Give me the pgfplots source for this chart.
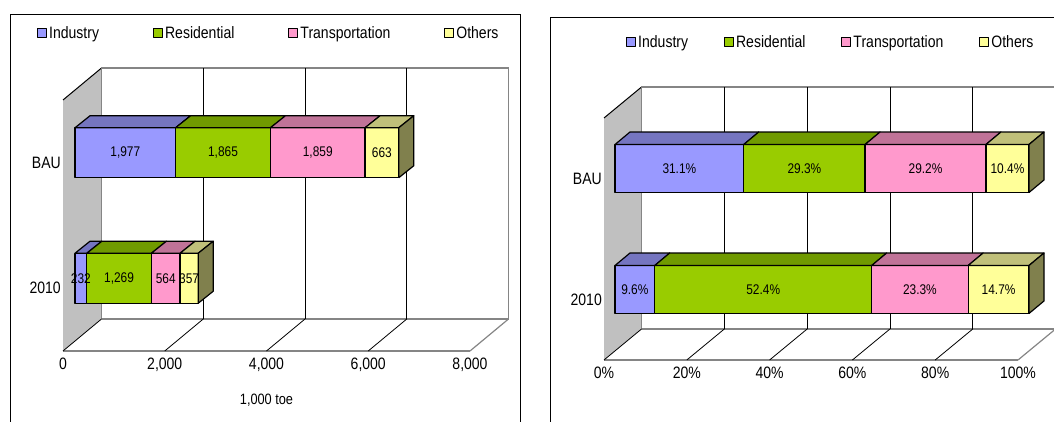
\documentclass[border=0pt]{standalone}
\usepackage{fontspec}
\setmainfont{Liberation Sans}[FakeStretch=0.85]
\usepackage{pgfplots}
\pgfplotsset{compat=1.18}

\definecolor{indF}{HTML}{9999FF}
\definecolor{indT}{HTML}{7575C0}
\definecolor{resF}{HTML}{99CC00}
\definecolor{resT}{HTML}{709A00}
\definecolor{traF}{HTML}{FF99CC}
\definecolor{traT}{HTML}{C07398}
\definecolor{othF}{HTML}{FFFF99}
\definecolor{othT}{HTML}{C0C07A}
\definecolor{othS}{HTML}{80804D}
\definecolor{wallG}{HTML}{C0C0C0}
\definecolor{edgeG}{HTML}{858585}

\newcommand\fs[1]{\fontsize{#1}{#1}\selectfont}

\pgfplotsset{
  base/.style={scale only axis, clip=false, anchor=south west, ymin=-0.5, ymax=1.5, no markers},
  face/.style={draw=black, line width=1.2pt, line join=round},
  legimg/.style={legend image code/.code={\draw[##1,line width=1pt] (0pt,-4.5pt) rectangle (9pt,4.5pt);}},
  frontax/.style={
    axis x line*=bottom, axis y line*=left,
    x axis line style={-, edgeG, line width=1.5pt},
    y axis line style={-, black, line width=1pt},
    ytick={0,1}, yticklabels={2010,BAU},
    minor ytick={0.5,1.5},
    major tick length=0pt, minor tick length=5pt, tick align=inside,
    minor y tick style={black, line width=1pt},
    tick label style={font=\fs{16.5}},
    yticklabel style={inner xsep=2pt},
    xticklabel style={yshift=-3.5pt},
  },
  lbl/.style={only marks, mark=*, mark size=0pt, mark options={draw=none,fill=none},
    nodes near coords align={center}, point meta=explicit,
    every node near coord/.append style={font=\fs{14}, text=black}},
}

\begin{document}
\begin{tikzpicture}
\path[use as bounding box] (0,0) rectangle (1054pt,422pt);
\clip (0,0) rectangle (1054pt,422pt);
\draw[line width=1pt] (10pt,407pt) rectangle (520pt,-20pt);
\draw[line width=1pt] (550pt,404pt) rectangle (1080pt,-20pt);

% ================= LEFT CHART =================
\begin{axis}[base, frontax, at={(63pt,71pt)}, width=407pt, height=251pt,
  xmin=0, xmax=8000,
  xtick={0,2000,4000,6000,8000}, xticklabels={0,{2,000},{4,000},{6,000},{8,000}},
  xlabel={1,000 toe}, xlabel style={font=\fs{15}, yshift=-15pt}]
\addplot[fill=wallG, draw=none] coordinates {(0,-0.5) (0,1.5) (757,1.755) (757,-0.245) (0,-0.5)};
\addplot[black, line width=1pt] coordinates {(0,1.5) (757,1.755)};
\addplot[edgeG, line width=1.5pt] coordinates {(757,-0.245) (757,1.755) (8757,1.755) (8757,-0.245) (757,-0.245)};
\addplot[black, line width=0.8pt] coordinates {(2757,-0.245) (2757,1.755)};
\addplot[black, line width=0.8pt] coordinates {(4757,-0.245) (4757,1.755)};
\addplot[black, line width=0.8pt] coordinates {(6757,-0.245) (6757,1.755)};
\addplot[black, line width=0.8pt] coordinates {(0,-0.5) (757,-0.245)};
\addplot[black, line width=0.8pt] coordinates {(2000,-0.5) (2757,-0.245)};
\addplot[black, line width=0.8pt] coordinates {(4000,-0.5) (4757,-0.245)};
\addplot[black, line width=0.8pt] coordinates {(6000,-0.5) (6757,-0.245)};
\addplot[edgeG, line width=1.2pt] coordinates {(8000,-0.5) (8757,-0.245)};
\end{axis}

\begin{axis}[base, at={(75pt,81pt)}, width=407pt, height=251pt,
  xmin=0, xmax=8000, hide axis, xbar stacked, bar width=50pt,
  legend columns=4, legend cell align=left,
  legend style={draw=none, fill=none, at={(-0.0934,1.227)}, anchor=west,
    font=\fs{16.5}, inner sep=0pt, nodes={inner xsep=2pt, inner ysep=1pt},
    /tikz/every even column/.append style={column sep=52pt}}]
\addplot[fill=indF, face, legimg] coordinates {(1977,1) (232,0)};
\addplot[fill=resF, face, legimg] coordinates {(1865,1) (1269,0)};
\addplot[fill=traF, face, legimg] coordinates {(1859,1) (564,0)};
\addplot[fill=othF, face, legimg] coordinates {(663,1) (357,0)};
\legend{Industry,Residential,Transportation,Others}
\end{axis}

\begin{axis}[base, at={(75pt,81pt)}, width=407pt, height=251pt,
  xmin=0, xmax=8000, hide axis]
% BAU tops
\addplot[fill=indT, face] coordinates {(0,1.1992) (295,1.2948) (2272,1.2948) (1977,1.1992) (0,1.1992)};
\addplot[fill=resT, face] coordinates {(1977,1.1992) (2272,1.2948) (4137,1.2948) (3842,1.1992) (1977,1.1992)};
\addplot[fill=traT, face] coordinates {(3842,1.1992) (4137,1.2948) (5996,1.2948) (5701,1.1992) (3842,1.1992)};
\addplot[fill=othT, face] coordinates {(5701,1.1992) (5996,1.2948) (6659,1.2948) (6364,1.1992) (5701,1.1992)};
\addplot[fill=othS, face] coordinates {(6364,0.8008) (6659,0.8964) (6659,1.2948) (6364,1.1992) (6364,0.8008)};
% 2010 tops
\addplot[fill=indT, face] coordinates {(0,0.1992) (295,0.2948) (527,0.2948) (232,0.1992) (0,0.1992)};
\addplot[fill=resT, face] coordinates {(232,0.1992) (527,0.2948) (1796,0.2948) (1501,0.1992) (232,0.1992)};
\addplot[fill=traT, face] coordinates {(1501,0.1992) (1796,0.2948) (2360,0.2948) (2065,0.1992) (1501,0.1992)};
\addplot[fill=othT, face] coordinates {(2065,0.1992) (2360,0.2948) (2717,0.2948) (2422,0.1992) (2065,0.1992)};
\addplot[fill=othS, face] coordinates {(2422,-0.1992) (2717,-0.1036) (2717,0.2948) (2422,0.1992) (2422,-0.1992)};
% value labels
\addplot[lbl, nodes near coords={\pgfmathprintnumber[assume math mode=true]{\pgfplotspointmeta}}]
  coordinates {(988.5,1) [1977] (2909.5,1) [1865] (4771.5,1) [1859] (6032.5,1) [663]
               (116,0) [232] (866.5,0) [1269] (1783,0) [564] (2243.5,0) [357]};
\end{axis}

% ================= RIGHT CHART =================
\begin{axis}[base, frontax, at={(604pt,62pt)}, width=414pt, height=242pt,
  xmin=0, xmax=100,
  xtick={0,20,40,60,80,100}, xticklabels={0\%,20\%,40\%,60\%,80\%,100\%}]
\addplot[fill=wallG, draw=none] coordinates {(0,-0.5) (0,1.5) (9.06,1.756) (9.06,-0.244) (0,-0.5)};
\addplot[black, line width=1pt] coordinates {(0,1.5) (9.06,1.756)};
\addplot[edgeG, line width=1.5pt] coordinates {(9.06,-0.244) (9.06,1.756) (109.06,1.756) (109.06,-0.244) (9.06,-0.244)};
\addplot[black, line width=0.8pt] coordinates {(29.06,-0.244) (29.06,1.756)};
\addplot[black, line width=0.8pt] coordinates {(49.06,-0.244) (49.06,1.756)};
\addplot[black, line width=0.8pt] coordinates {(69.06,-0.244) (69.06,1.756)};
\addplot[black, line width=0.8pt] coordinates {(89.06,-0.244) (89.06,1.756)};
\addplot[black, line width=0.8pt] coordinates {(0,-0.5) (9.06,-0.244)};
\addplot[black, line width=0.8pt] coordinates {(20,-0.5) (29.06,-0.244)};
\addplot[black, line width=0.8pt] coordinates {(40,-0.5) (49.06,-0.244)};
\addplot[black, line width=0.8pt] coordinates {(60,-0.5) (69.06,-0.244)};
\addplot[black, line width=0.8pt] coordinates {(80,-0.5) (89.06,-0.244)};
\addplot[edgeG, line width=1.2pt] coordinates {(100,-0.5) (109.06,-0.244)};
\end{axis}

\begin{axis}[base, at={(615pt,72pt)}, width=414pt, height=242pt,
  xmin=0, xmax=100, hide axis, xbar stacked, bar width=48pt,
  legend columns=4, legend cell align=left,
  legend style={draw=none, fill=none, at={(0.0266,1.2727)}, anchor=west,
    font=\fs{16.5}, inner sep=0pt, nodes={inner xsep=2pt, inner ysep=1pt},
    /tikz/every even column/.append style={column sep=34pt}}]
\addplot[fill=indF, face, legimg] coordinates {(31.1,1) (9.6,0)};
\addplot[fill=resF, face, legimg] coordinates {(29.3,1) (52.4,0)};
\addplot[fill=traF, face, legimg] coordinates {(29.2,1) (23.3,0)};
\addplot[fill=othF, face, legimg] coordinates {(10.4,1) (14.7,0)};
\legend{Industry,Residential,Transportation,Others}
\end{axis}

\begin{axis}[base, at={(615pt,72pt)}, width=414pt, height=242pt,
  xmin=0, xmax=100, hide axis]
% BAU tops
\addplot[fill=indT, face] coordinates {(0,1.1983) (3.62,1.3016) (34.72,1.3016) (31.1,1.1983) (0,1.1983)};
\addplot[fill=resT, face] coordinates {(31.1,1.1983) (34.72,1.3016) (64.02,1.3016) (60.4,1.1983) (31.1,1.1983)};
\addplot[fill=traT, face] coordinates {(60.4,1.1983) (64.02,1.3016) (93.22,1.3016) (89.6,1.1983) (60.4,1.1983)};
\addplot[fill=othT, face] coordinates {(89.6,1.1983) (93.22,1.3016) (103.62,1.3016) (100,1.1983) (89.6,1.1983)};
\addplot[fill=othS, face] coordinates {(100,0.8017) (103.62,0.905) (103.62,1.3016) (100,1.1983) (100,0.8017)};
% 2010 tops
\addplot[fill=indT, face] coordinates {(0,0.1983) (3.62,0.3016) (13.22,0.3016) (9.6,0.1983) (0,0.1983)};
\addplot[fill=resT, face] coordinates {(9.6,0.1983) (13.22,0.3016) (65.62,0.3016) (62,0.1983) (9.6,0.1983)};
\addplot[fill=traT, face] coordinates {(62,0.1983) (65.62,0.3016) (88.92,0.3016) (85.3,0.1983) (62,0.1983)};
\addplot[fill=othT, face] coordinates {(85.3,0.1983) (88.92,0.3016) (103.62,0.3016) (100,0.1983) (85.3,0.1983)};
\addplot[fill=othS, face] coordinates {(100,-0.1983) (103.62,-0.095) (103.62,0.3016) (100,0.1983) (100,-0.1983)};
% value labels
\addplot[lbl, nodes near coords={\pgfmathprintnumber[fixed,fixed zerofill,precision=1,assume math mode=true]{\pgfplotspointmeta}\%}]
  coordinates {(15.55,1) [31.1] (45.75,1) [29.3] (75,1) [29.2] (94.8,1) [10.4]
               (4.8,0) [9.6] (35.8,0) [52.4] (73.65,0) [23.3] (92.65,0) [14.7]};
\end{axis}
\end{tikzpicture}
\end{document}
